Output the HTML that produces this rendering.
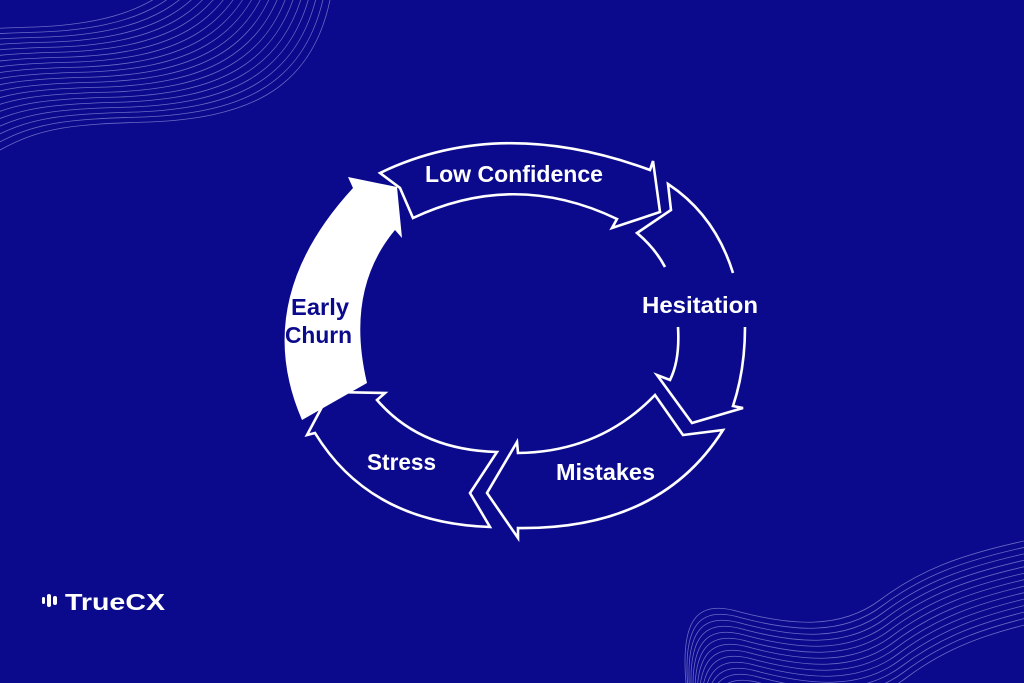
<!DOCTYPE html>
<html><head><meta charset="utf-8"><style>
html,body{margin:0;padding:0;background:#0c0a8c;width:1024px;height:683px;overflow:hidden;}
svg{display:block}
text{font-family:"Liberation Sans Narrow","Liberation Sans",sans-serif;font-weight:bold;}
</style></head><body>
<svg width="1024" height="683" viewBox="0 0 1024 683" xmlns="http://www.w3.org/2000/svg">
<rect width="1024" height="683" fill="#0c0a8c"/>
<defs>
<path id="tl" d="M0,150 C40,128 70,124 150,122 C240,118 310,95 330,0" fill="none" stroke="#8a8ad8" stroke-width="0.8" opacity="0.75"/>
<path id="br" d="M1024,541 C960,555 920,570 880,600 C840,630 790,625 740,612 C700,600 680,615 686,683" fill="none" stroke="#8a8ad8" stroke-width="0.8" opacity="0.75"/>
</defs>
<g>
<use href="#tl"/><use href="#tl" transform="translate(-6,-5)"/><use href="#tl" transform="translate(-12,-10)"/><use href="#tl" transform="translate(-18,-15)"/><use href="#tl" transform="translate(-24,-20)"/><use href="#tl" transform="translate(-30,-25)"/><use href="#tl" transform="translate(-36,-30)"/><use href="#tl" transform="translate(-42,-35)"/><use href="#tl" transform="translate(-48,-40)"/><use href="#tl" transform="translate(-54,-45)"/><use href="#tl" transform="translate(-60,-50)"/><use href="#tl" transform="translate(-66,-55)"/><use href="#tl" transform="translate(-72,-60)"/><use href="#tl" transform="translate(-78,-65)"/><use href="#tl" transform="translate(-84,-70)"/><use href="#tl" transform="translate(-90,-75)"/><use href="#tl" transform="translate(-96,-80)"/><use href="#tl" transform="translate(-102,-85)"/><use href="#tl" transform="translate(-108,-90)"/><use href="#tl" transform="translate(-114,-95)"/>
</g>
<g>
<use href="#br"/><use href="#br" transform="translate(2,6)"/><use href="#br" transform="translate(4,12)"/><use href="#br" transform="translate(6,18)"/><use href="#br" transform="translate(8,24)"/><use href="#br" transform="translate(10,30)"/><use href="#br" transform="translate(12,36)"/><use href="#br" transform="translate(14,42)"/><use href="#br" transform="translate(16,48)"/><use href="#br" transform="translate(18,54)"/><use href="#br" transform="translate(20,60)"/><use href="#br" transform="translate(22,66)"/><use href="#br" transform="translate(24,72)"/><use href="#br" transform="translate(26,78)"/>
</g>

<g fill="none" stroke="#fff" stroke-width="2.6" stroke-linejoin="miter">
<path d="M380,173 Q500,115 650,170 L653,161 L660,212 L612,228 L617,219 Q515,170 413,218 L400,188 Z"/>
<path d="M733,273 Q715,215 668,184 L671,210 L637,233 Q655,248 665,267"/>
<path d="M678,327 Q680,360 670,380 L657,375 L692,423 L743,408 L733,406 Q745,370 745,327"/>
<path d="M723,430 L683,435 L655,395 Q600,452 518,453 L517,442 L487,493 L518,538 L518,528 Q660,530 723,430 Z"/>
<path d="M490,527 L470,493 L497,452 Q420,450 377,400 L385,393 L330,392 L307,435 L315,433 Q370,523 490,527 Z"/>
</g>
<path d="M302,420 Q250,300 353,188 L348,177 L397,187 L402,238 L395,230 Q345,290 367,383 Z" fill="#fff"/>

<text x="425" y="182" font-size="23" fill="#fff" textLength="178" lengthAdjust="spacingAndGlyphs">Low Confidence</text>
<text x="642" y="313" font-size="23" fill="#fff" textLength="116" lengthAdjust="spacingAndGlyphs">Hesitation</text>
<text x="291" y="315" font-size="23" fill="#0c0a8c" textLength="58" lengthAdjust="spacingAndGlyphs">Early</text>
<text x="285" y="343" font-size="23" fill="#0c0a8c" textLength="67" lengthAdjust="spacingAndGlyphs">Churn</text>
<text x="367" y="470" font-size="23" fill="#fff" textLength="69" lengthAdjust="spacingAndGlyphs">Stress</text>
<text x="556" y="480" font-size="23" fill="#fff" textLength="99" lengthAdjust="spacingAndGlyphs">Mistakes</text>

<rect x="42" y="597" width="3" height="7" rx="1.5" fill="#fff"/>
<rect x="47" y="594" width="4" height="13" rx="2" fill="#fff"/>
<rect x="53" y="596" width="4" height="9" rx="2" fill="#fff"/>
<text x="65" y="610" font-size="23" fill="#fff" style="font-family:'Liberation Sans',sans-serif" textLength="100" lengthAdjust="spacingAndGlyphs">TrueCX</text>
</svg>
</body></html>
